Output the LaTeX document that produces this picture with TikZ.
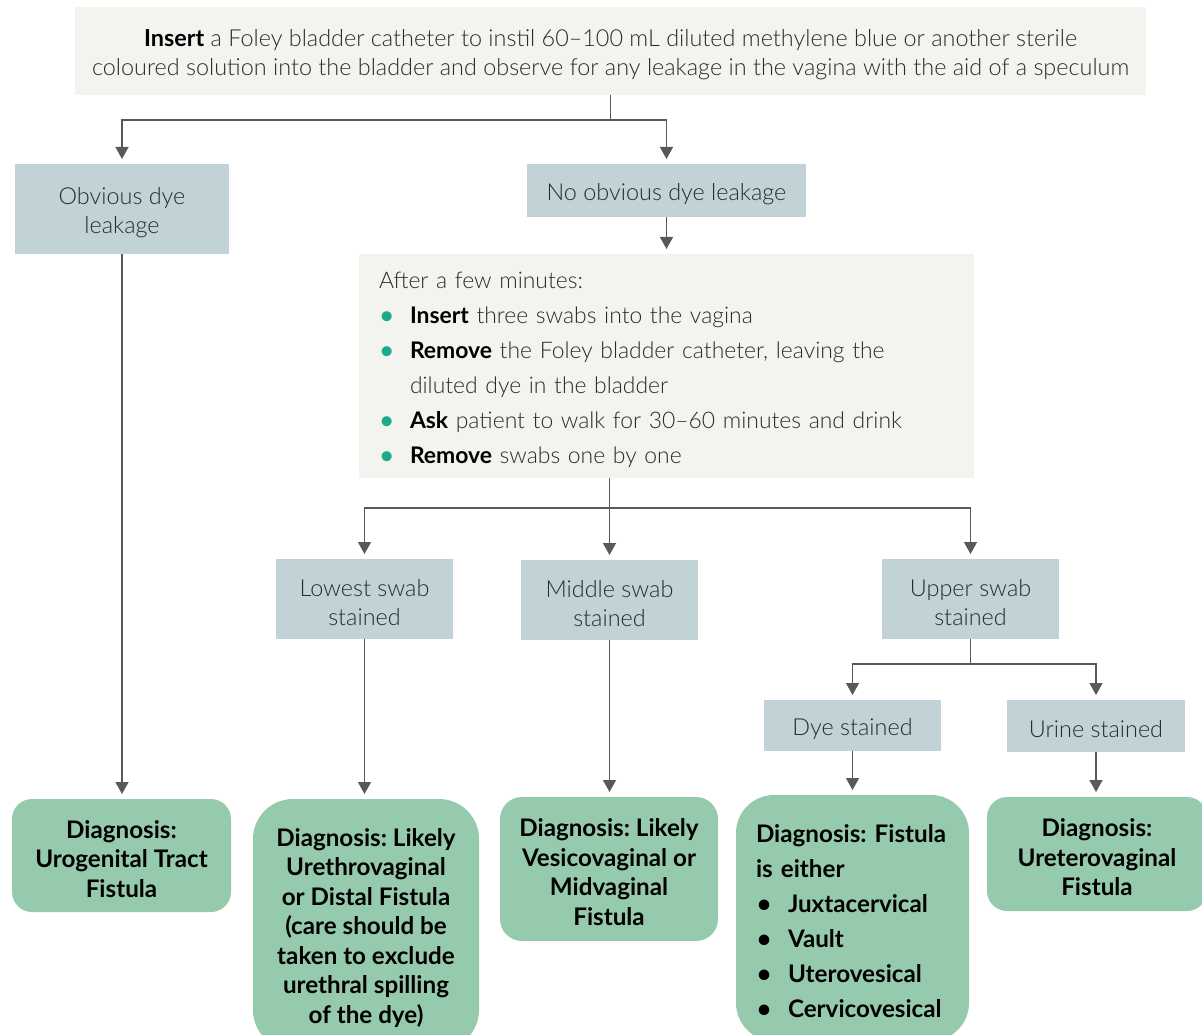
\documentclass[tikz,border=0pt]{standalone}
\usepackage{fontspec}
\setmainfont{Lato}[UprightFont={* Light}, BoldFont={* Bold}]
\usetikzlibrary{arrows.meta}
\frenchspacing
\definecolor{topfill}{HTML}{F3F4F0}
\definecolor{bluefill}{HTML}{C1D3D7}
\definecolor{greenfill}{HTML}{96CAAC}
\definecolor{linec}{HTML}{595959}
\definecolor{bulc}{HTML}{1BAA8A}
\definecolor{txt}{HTML}{2A2A2A}
\newcommand\bk[1]{\textbf{\color{black}#1}}
\newcommand\tbul{\makebox[31pt][l]{\hspace{1pt}\textcolor{bulc}{\textbf{•}}}}
\newcommand\dbul{\makebox[32pt][l]{\hspace{1pt}•}}
% strut that pushes the text block down a little
\newcommand\up{\rule{0pt}{\dimexpr\fontcharht\font`l+7pt\relax}}
\begin{document}
\begin{tikzpicture}[x=1pt,y=-1pt,
  every node/.style={inner sep=0pt, outer sep=0pt},
  base/.style={anchor=north west, text=txt, font=\fontsize{23.4}{29}\selectfont\frenchspacing, align=center},
  greybox/.style={base, fill=topfill},
  bluebox/.style={base, fill=bluefill},
  diag/.style={base, fill=greenfill, text=black, font=\fontsize{24.2}{29.5}\selectfont\bfseries\frenchspacing},
  arr/.style={draw=linec, line width=1.4pt, -{Triangle[length=12pt,width=13pt]}, shorten >=5pt}
]
\useasboundingbox (0,0) rectangle (1202,1035);
\clip (0,0) rectangle (1202,1035);

\node[greybox, minimum width=1071pt, minimum height=88pt] (top) at (75,7)
  {\up\bk{Insert} a Foley bladder catheter to instil 60–100 mL diluted methylene blue or another sterile\\
   coloured solution into the bladder and observe for any leakage in the vagina with the aid of a speculum};

\node[bluebox, minimum width=214pt, minimum height=90pt] (obv) at (15,164) {\up Obvious dye\\leakage};
\node[bluebox, minimum width=279pt, minimum height=53pt] (noobv) at (527,164) {\up No obvious dye leakage};

\node[greybox, minimum height=224pt, inner xsep=20pt, text width=575pt, align=left,
      font=\fontsize{22.9}{35}\selectfont\frenchspacing] (after) at (359,254)
  {\up After a few minutes:\\
   \tbul\bk{Insert} three swabs into the vagina\\
   \tbul\bk{Remove} the Foley bladder catheter, leaving the\\
   \hspace*{31pt}diluted dye in the bladder\\
   \tbul\bk{Ask} patient to walk for 30–60 minutes and drink\\
   \tbul\bk{Remove} swabs one by one};

\node[bluebox, minimum width=177pt, minimum height=80pt] (low) at (276,559) {\up Lowest swab\\stained};
\node[bluebox, minimum width=177pt, minimum height=80pt] (mid) at (521,560) {\up Middle swab\\stained};
\node[bluebox, minimum width=177pt, minimum height=80pt] (up) at (882,559) {\up Upper swab\\stained};
\node[bluebox, minimum width=177pt, minimum height=51pt] (dye) at (764,700) {\up Dye stained};
\node[bluebox, minimum width=178pt, minimum height=52pt] (urine) at (1007,700) {\up Urine stained};

\node[diag, minimum width=219pt, minimum height=113pt, rounded corners=20pt] (d1) at (12,799)
  {\up Diagnosis:\\Urogenital Tract\\Fistula};
\node[diag, minimum width=226pt, minimum height=251pt, rounded corners=40pt] (d2) at (253,799)
  {\up Diagnosis: Likely\\Urethrovaginal\\or Distal Fistula\\(care should be\\taken to exclude\\urethral spilling\\of the dye)};
\node[diag, minimum width=218pt, minimum height=144pt, rounded corners=22pt] (d3) at (500,797)
  {\up Diagnosis: Likely\\Vesicovaginal or\\Midvaginal\\Fistula};
\node[diag, minimum height=246pt, inner xsep=20pt, text width=193pt, rounded corners=38pt, align=left,
      font=\fontsize{24.2}{35}\selectfont\bfseries\frenchspacing] (d4) at (736,795)
  {\up\mbox{Diagnosis: Fistula}\\
   is either\\
   \dbul Juxtacervical\\
   \dbul Vault\\
   \dbul Uterovesical\\
   \dbul Cervicovesical};
\node[diag, minimum width=220pt, minimum height=114pt, rounded corners=20pt] (d5) at (987,797)
  {\up Diagnosis:\\Ureterovaginal\\Fistula};

% connectors
\draw[arr] (top.south) -- ++(0,25) -| (obv.north);
\draw[arr] (top.south) -- ++(0,25) -| (noobv.north);
\draw[arr] (noobv.south) -- (after.north -| noobv.south);
\coordinate (split) at (after.south -| mid.north);
\draw[arr] (split) -- ++(0,30) -| (low.north);
\draw[arr] (split) -- (mid.north);
\draw[arr] (split) -- ++(0,30) -| (up.north);
\draw[arr] (up.south) -- ++(0,25) -| (dye.north);
\draw[arr] (up.south) -- ++(0,25) -| (urine.north);
\draw[arr] (obv.south) -- (obv.south |- d1.north);
\draw[arr] (low.south) -- (low.south |- d2.north);
\draw[arr] (mid.south) -- (mid.south |- d3.north);
\draw[arr] (dye.south) -- (dye.south |- d4.north);
\draw[arr] (urine.south) -- (urine.south |- d5.north);
\end{tikzpicture}
\end{document}
